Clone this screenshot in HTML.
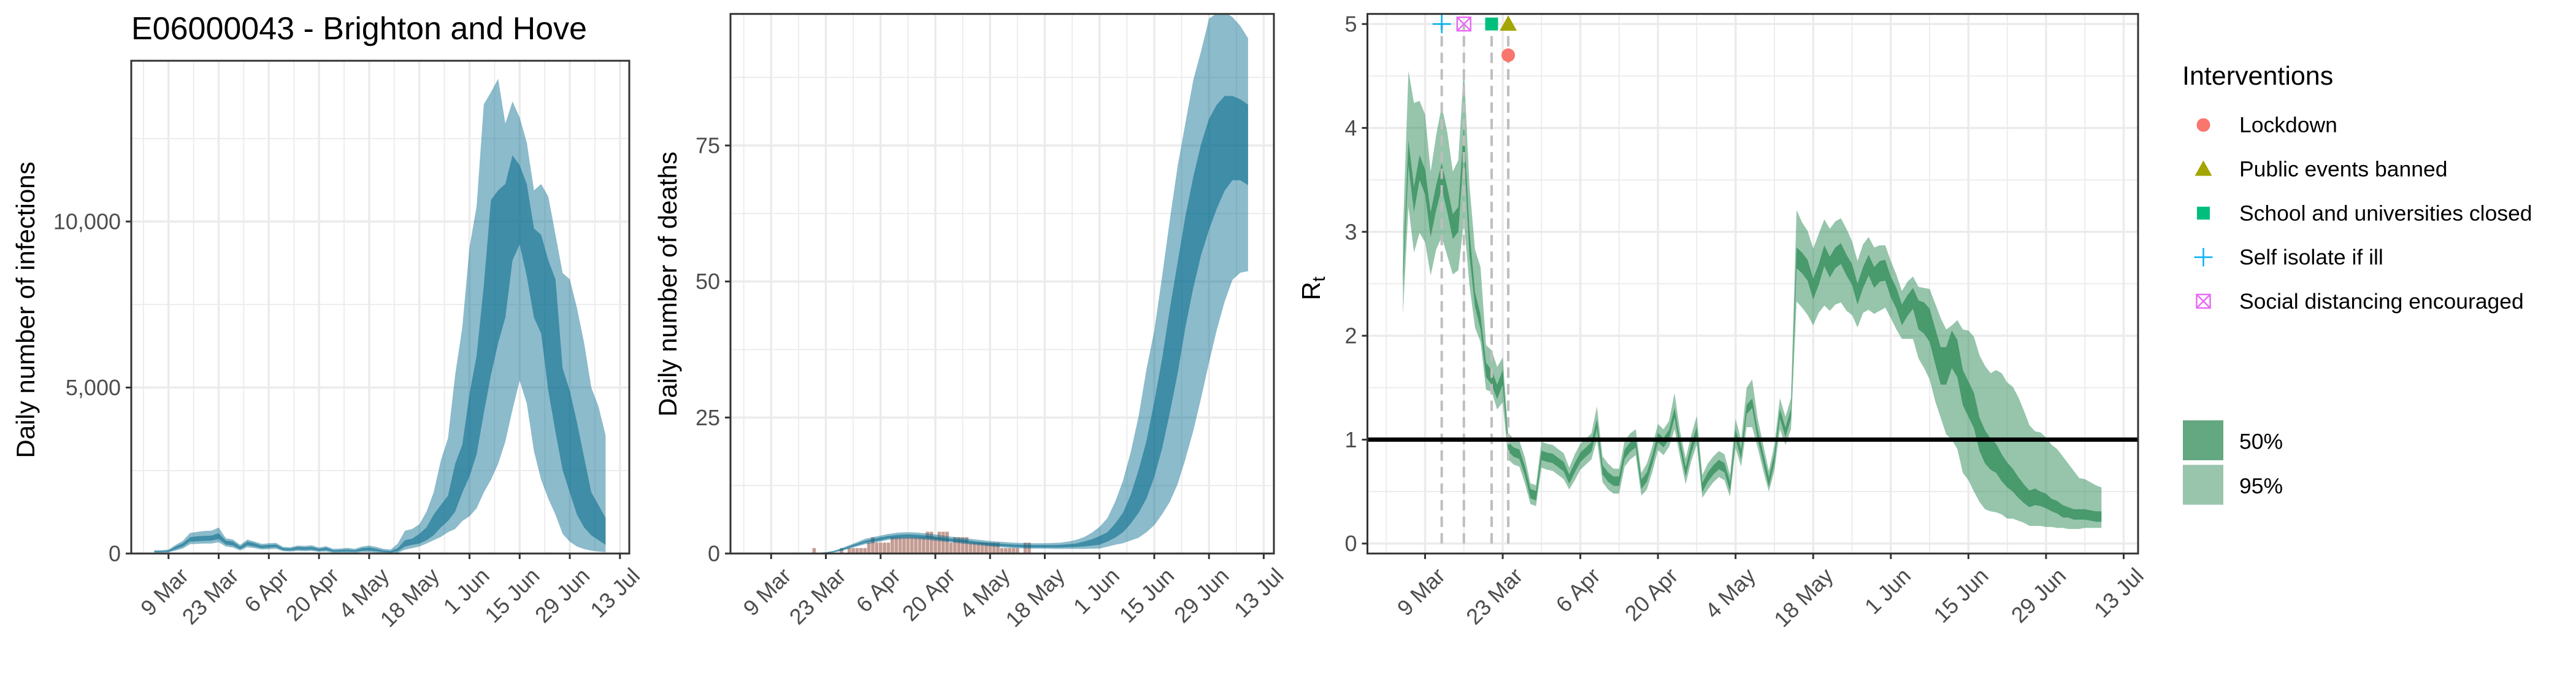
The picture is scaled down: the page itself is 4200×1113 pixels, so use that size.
<!DOCTYPE html>
<html><head><meta charset="utf-8"><title>E06000043 - Brighton and Hove</title>
<style>
html,body{margin:0;padding:0;background:#fff;}
svg{display:block;font-family:"Liberation Sans",Arial,sans-serif;}
</style></head>
<body>
<svg id="chart" width="4200" height="1113" viewBox="0 0 4200 1113" xmlns="http://www.w3.org/2000/svg">
<rect x="0" y="0" width="4200" height="1113" fill="#fff"/>
<g id="p1"></g>
<g id="p2"></g>
<g id="p3"></g>
<text x="214" y="64" font-size="52" fill="#000">E06000043 - Brighton and Hove</text>
<g id="legend"></g>
</svg>
<script>
// ---------- shared x axis (days since 9 Mar) ----------
const xTickDays = [0,14,28,42,56,70,84,98,112,126];
const xTickLabels = ['9 Mar','23 Mar','6 Apr','20 Apr','4 May','18 May','1 Jun','15 Jun','29 Jun','13 Jul'];

// ---------- infections (every 2 days) ----------
const infDays = [-4,-2,0,2,4,6,8,10,12,14,16,18,20,22,24,26,28,30,32,34,36,38,40,42,44,46,48,50,52,54,56,58,60,62,64,66,68,70,72,74,76,78,80,82,84,86,88,90,92,94,96,98,100,102,104,106,108,110,112,114,116,118,120,122];
const infLo50 = [45,45,50,130,210,360,370,380,390,440,270,240,130,250,210,160,180,190,100,90,120,110,120,80,100,50,55,60,50,80,90,70,40,30,70,210,260,300,400,550,785,980,1260,1840,2320,2990,4230,5380,6340,7110,8830,9310,8350,7110,6630,4900,3660,2510,1840,1170,785,546,402,260];
const infHi50 = [75,75,90,210,310,490,520,530,540,610,390,360,210,360,310,240,260,270,160,150,200,190,200,140,180,100,110,120,100,160,180,140,90,75,160,400,450,590,785,1170,1460,1740,2700,3280,4810,5960,8070,10650,10940,11130,11990,11700,11130,9790,9600,8830,8260,5580,4900,3950,2890,1840,1460,1070];
const infLo95 = [30,30,35,90,150,280,290,300,300,340,210,180,90,190,160,120,130,140,70,60,80,70,80,50,60,25,30,30,20,40,40,30,15,10,20,115,160,210,300,400,500,640,740,980,1120,1360,1840,2220,2700,3370,4330,5210,4520,3080,2220,1650,1170,594,354,210,134,86,57,38];
const infHi95 = [100,100,120,260,380,620,650,680,690,780,460,420,260,420,360,290,310,320,200,190,240,230,250,180,220,140,150,170,140,210,240,200,140,120,300,690,740,880,1260,1840,2800,3470,5380,6820,9220,10460,13530,13900,14300,12950,13620,13140,12380,10940,11130,10750,9600,8450,8260,7400,6340,5000,4430,3560];
const infTicks = [0,5000,10000];
const infTickLabels = ['0','5,000','10,000'];
const infMinor = [2500,7500,12500];

// ---------- deaths (every 2 days) ----------
const dthDays = [10,12,14,16,18,20,22,24,26,28,30,32,34,36,38,40,42,44,46,48,50,52,54,56,58,60,62,64,66,68,70,72,74,76,78,80,82,84,86,88,90,92,94,96,98,100,102,104,106,108,110,112,114,116,118,120,122];
const dthLo50 = [0.01,0.03,0.08,0.27,0.6,1.05,1.5,1.95,2.2,2.45,2.75,2.85,2.95,2.95,2.85,2.75,2.6,2.4,2.25,2.1,1.95,1.8,1.65,1.5,1.4,1.3,1.2,1.15,1.1,1.1,1.1,1.1,1.1,1.15,1.2,1.3,1.45,1.6,2.2,2.9,3.9,5.5,7.5,10.1,14.1,19.3,25.9,33.2,41.7,48.9,54.9,59.5,63.4,66.7,68.6,68.6,67.7];
const dthHi50 = [0.03,0.08,0.17,0.43,0.8,1.35,1.85,2.35,2.65,2.95,3.25,3.4,3.5,3.5,3.4,3.3,3.1,2.9,2.75,2.6,2.45,2.25,2.1,1.95,1.85,1.75,1.65,1.6,1.55,1.55,1.55,1.55,1.6,1.7,1.85,2.2,2.6,3.2,3.9,5.5,7.5,10.8,15.4,20.7,27.9,35.8,45,53.6,62.1,69.3,75.3,79.9,82.5,84.1,84.1,83.5,82.5];
const dthLo95 = [0,0.01,0.04,0.2,0.45,0.9,1.3,1.7,1.9,2.2,2.5,2.6,2.7,2.7,2.6,2.5,2.35,2.2,2.05,1.9,1.75,1.6,1.45,1.3,1.2,1.1,1.0,0.95,0.9,0.9,0.9,0.85,0.85,0.85,0.85,0.85,0.9,0.9,1.25,1.6,1.9,2.4,2.9,3.9,5.2,7.2,9.5,12.8,17.4,22.6,28.6,35.1,41.1,46.3,50.3,51.6,51.9];
const dthHi95 = [0.05,0.12,0.25,0.5,1.0,1.55,2.1,2.7,3.0,3.3,3.6,3.8,3.9,3.9,3.8,3.7,3.5,3.3,3.1,2.95,2.8,2.6,2.45,2.3,2.2,2.1,2.0,1.95,1.9,1.9,1.9,1.95,2.0,2.2,2.5,3.0,3.8,4.9,6.5,9.5,13.4,18.7,25.3,33.8,41,50.9,61.4,71.3,79.2,87.1,92.4,98.3,99.3,99.5,98.6,97,94.7];
const obsDays = [11,18,20,21,22,23,24,25,26,27,28,29,30,31,32,33,34,35,36,37,38,39,40,41,42,43,44,45,46,47,48,49,50,51,52,53,54,55,56,57,58,59,60,61,62,63,65,66];
const obsDeaths = [1,1,1,1,1,1,1,2,3,2,2,2,2,3,3,3,3,3,3,3,3,3,4,4,3,4,4,4,2,3,3,3,3,2,2,2,2,2,2,2,2,1,1,1,1,1,2,2];
const dthTicks = [0,25,50,75];
const dthTickLabels = ['0','25','50','75'];
const dthMinor = [12.5,37.5,62.5,87.5];

// ---------- Rt (daily from day -4) ----------
const rtStartDay = -4;
const rtMed = [2.55,3.76,3.31,3.62,3.48,3.07,3.33,3.54,3.31,3.05,3.12,3.89,2.90,2.35,2.13,1.67,1.60,1.46,1.60,
0.93,0.88,0.86,0.70,0.48,0.46,0.85,0.83,0.82,0.78,0.74,0.62,0.73,0.83,0.88,0.93,1.15,0.71,0.64,0.60,0.60,0.86,0.93,0.97,0.57,0.64,0.81,1.02,0.97,1.05,1.26,0.95,0.69,0.91,1.08,0.54,0.64,0.71,0.76,0.73,0.55,1.05,0.86,1.29,1.35,1.05,0.82,0.59,0.82,1.25,1.07,1.25,
2.75,2.70,2.63,2.45,2.59,2.77,2.66,2.75,2.79,2.68,2.59,2.40,2.56,2.68,2.56,2.62,2.63,2.47,2.36,2.20,2.29,2.36,2.20,2.17,2.10,1.90,1.71,1.71,1.87,1.78,1.50,1.39,1.28,1.05,0.93,0.86,0.82,0.73,0.66,0.61,0.54,0.48,0.43,0.45,0.43,0.41,0.37,0.35,0.31,0.30,0.28,0.28,0.28,0.27,0.26,0.26];
const rtHalf50 = [0.08,0.12,0.12,0.12,0.12,0.12,0.12,0.12,0.12,0.12,0.12,0.12,0.12,0.07,0.07,0.07,0.07,0.07,0.07,
0.045,0.045,0.045,0.045,0.045,0.045,0.045,0.045,0.045,0.045,0.045,0.045,0.045,0.045,0.045,0.045,0.045,0.045,0.045,0.045,0.045,0.045,0.045,0.045,0.045,0.045,0.045,0.045,0.045,0.045,0.045,0.045,0.045,0.045,0.045,0.045,0.045,0.045,0.045,0.045,0.045,0.045,0.045,0.045,0.045,0.045,0.045,0.045,0.045,0.045,0.045,0.045,
0.1,0.1,0.1,0.1,0.1,0.1,0.1,0.1,0.1,0.1,0.1,0.1,0.1,0.1,0.1,0.1,0.1,0.1,0.1,0.1,0.1,0.1,
0.14,0.15,0.16,0.17,0.18,0.18,0.18,0.18,0.17,0.17,0.17,0.16,
0.16,0.15,0.14,0.13,0.12,0.11,0.10,0.09,0.08,0.08,
0.07,0.07,0.06,0.06,0.06,0.05,0.05,0.05,0.05,0.05,0.05,0.05];
const rtLo95 = [2.2,3.24,2.80,2.99,2.90,2.58,2.83,2.95,2.77,2.59,2.63,3.10,2.49,2.08,1.94,1.48,1.46,1.29,1.36,
0.81,0.76,0.74,0.58,0.38,0.36,0.73,0.71,0.70,0.66,0.62,0.52,0.61,0.71,0.76,0.81,1.00,0.59,0.52,0.48,0.48,0.74,0.81,0.85,0.46,0.52,0.69,0.90,0.85,0.93,1.10,0.83,0.57,0.79,0.95,0.44,0.52,0.59,0.64,0.61,0.45,0.92,0.74,1.12,1.12,0.92,0.70,0.50,0.70,1.10,0.95,1.10,
2.33,2.27,2.20,2.10,2.22,2.29,2.24,2.30,2.32,2.24,2.20,2.08,2.22,2.25,2.21,2.24,2.27,2.17,2.06,1.97,1.97,1.97,1.78,1.69,1.58,1.37,1.21,1.05,1.00,0.91,0.68,0.61,0.50,0.40,0.33,0.31,0.30,0.28,0.24,0.24,0.22,0.20,0.17,0.17,0.17,0.16,0.16,0.15,0.15,0.14,0.14,0.14,0.15,0.15,0.15,0.15];
const rtHi95 = [3.0,4.55,4.24,4.26,4.13,3.58,3.93,4.21,3.96,3.58,3.69,4.58,3.45,2.83,2.66,1.91,1.86,1.70,1.79,
1.06,1.01,0.99,0.83,0.58,0.56,0.98,0.96,0.95,0.91,0.87,0.73,0.86,0.96,1.01,1.06,1.32,0.84,0.77,0.72,0.72,0.99,1.06,1.10,0.68,0.77,0.94,1.15,1.10,1.18,1.45,1.08,0.82,1.04,1.23,0.66,0.77,0.84,0.89,0.86,0.66,1.20,1.00,1.50,1.58,1.20,0.95,0.70,0.95,1.40,1.22,1.40,
3.21,3.09,3.01,2.84,2.98,3.12,3.03,3.10,3.13,3.03,2.91,2.72,2.88,2.95,2.85,2.87,2.87,2.72,2.59,2.43,2.52,2.57,2.47,2.46,2.45,2.31,2.17,2.06,2.10,2.15,2.06,2.05,1.99,1.81,1.71,1.64,1.67,1.64,1.55,1.51,1.41,1.28,1.14,1.08,1.07,1.02,0.95,0.91,0.84,0.77,0.70,0.63,0.62,0.59,0.56,0.54];
const rtTicks = [0,1,2,3,4,5];
const rtTickLabels = ['0','1','2','3','4','5'];
const rtMinor = [0.5,1.5,2.5,3.5,4.5];

// ---------- interventions ----------
const intNames = ['Lockdown','Public events banned','School and universities closed','Self isolate if ill','Social distancing encouraged'];
const intDays = [15,15,12,3,7];
const intY = [4.7,5,5,5,5];
const intShapes = ['circle','triangle','square','plus','xbox'];
const intColors = ['#F8766D','#A3A500','#00BF7D','#00B0F6','#E76BF3'];

// ---------- helpers ----------
const NS = 'http://www.w3.org/2000/svg';
const X_DOMAIN = [-10.4, 128.6];
function mk(tag, attrs, parent){
  const e = document.createElementNS(NS, tag);
  for (const k in attrs) e.setAttribute(k, attrs[k]);
  parent.appendChild(e);
  return e;
}
function makeScale(d0,d1,r0,r1){ return v => r0 + (v-d0)/(d1-d0)*(r1-r0); }
function bandPath(xs, lo, hi, sx, sy){
  let d = '';
  for (let i=0;i<xs.length;i++) d += (i?'L':'M') + sx(xs[i]).toFixed(1) + ',' + sy(hi[i]).toFixed(1);
  for (let i=xs.length-1;i>=0;i--) d += 'L' + sx(xs[i]).toFixed(1) + ',' + sy(lo[i]).toFixed(1);
  return d + 'Z';
}
function setupPanel(g, box, yDom, yTicks, yLabels, yMinor, clipId){
  const sx = makeScale(X_DOMAIN[0], X_DOMAIN[1], box.l, box.r);
  const sy = makeScale(yDom[0], yDom[1], box.b, box.t);
  const grid = mk('g', {}, g);
  
  
  yMinor.forEach(v => { const y = sy(v); if (y>box.t && y<box.b) mk('line',{x1:box.l,x2:box.r,y1:y,y2:y,stroke:'#EBEBEB','stroke-width':1.8},grid); });
  for (let d=-7; d<=133; d+=14){ const x = sx(d); if (x>box.l && x<box.r) mk('line',{x1:x,x2:x,y1:box.t,y2:box.b,stroke:'#EBEBEB','stroke-width':1.8},grid); }
  yTicks.forEach(v => { const y = sy(v); mk('line',{x1:box.l,x2:box.r,y1:y,y2:y,stroke:'#EBEBEB','stroke-width':3.5},grid); });
  xTickDays.forEach(d => { const x = sx(d); if (x>box.l && x<box.r) mk('line',{x1:x,x2:x,y1:box.t,y2:box.b,stroke:'#EBEBEB','stroke-width':3.5},grid); });
  const defs = mk('defs', {}, g);
  const cp = mk('clipPath', {id:clipId}, defs);
  mk('rect', {x:box.l, y:box.t, width:box.r-box.l, height:box.b-box.t}, cp);
  const data = mk('g', {'clip-path':'url(#'+clipId+')'}, g);
  
  
  return {sx, sy, data};
}
function finishPanel(g, box, sx, sy, yTicks, yLabels, prefix){
  const border = mk('rect', {x:box.l, y:box.t, width:box.r-box.l, height:box.b-box.t, fill:'none', stroke:'#333333', 'stroke-width':3}, g);
  
  
  const yax = mk('g', {}, g);
  
  
  yTicks.forEach((v,i) => {
    const y = sy(v);
    mk('line', {x1:box.l-9, x2:box.l, y1:y, y2:y, stroke:'#333333', 'stroke-width':3}, yax);
    const t = mk('text', {x:box.l-17, y:y+12.5, 'text-anchor':'end', 'font-size':36, fill:'#4D4D4D'}, yax);
    t.textContent = yLabels[i];
    
    
  });
  const xax = mk('g', {}, g);
  
  
  xTickDays.forEach((d,i) => {
    const x = sx(d);
    mk('line', {x1:x, x2:x, y1:box.b, y2:box.b+9, stroke:'#333333', 'stroke-width':3}, xax);
    const ax = x + 16, ay = box.b + 20;
    const t = mk('text', {x:ax, y:ay, 'text-anchor':'end', 'dominant-baseline':'hanging', 'font-size':36, fill:'#4D4D4D', transform:'rotate(-45 '+ax+' '+ay+')'}, xax);
    t.textContent = xTickLabels[i];
    
    
  });
}
function yTitle(g, x, y, txt, name){
  const t = mk('text', {x:x, y:y, 'text-anchor':'middle', 'font-size':42, fill:'#000', transform:'rotate(-90 '+x+' '+y+')'}, g);
  t.textContent = txt;
  
  
  return t;
}

// ---------- Panel 1: infections ----------
(function(){
  const g = document.getElementById('p1');
  const box = {l:214, r:1026, t:99, b:902};
  const yDom = [0, 14843];
  const {sx, sy, data} = setupPanel(g, box, yDom, infTicks, infTickLabels, infMinor, 'clip1');
  const b95 = mk('path', {d:bandPath(infDays, infLo95, infHi95, sx, sy), fill:'rgba(0,104,139,0.45)'}, data);
  
  
  const b50 = mk('path', {d:bandPath(infDays, infLo50, infHi50, sx, sy), fill:'rgba(0,104,139,0.55)'}, data);
  
  
  finishPanel(g, box, sx, sy, infTicks, infTickLabels, 'infections');
  yTitle(g, 56, 505, 'Daily number of infections', 'infections-y-axis-title');
})();

// ---------- Panel 2: deaths ----------
(function(){
  const g = document.getElementById('p2');
  const box = {l:1191, r:2077, t:22.7, b:902};
  const yDom = [0, 99.18];
  const {sx, sy, data} = setupPanel(g, box, yDom, dthTicks, dthTickLabels, dthMinor, 'clip2');
  const bars = mk('g', {}, data);
  
  
  const w = (sx(1)-sx(0))*0.88;
  obsDays.forEach((d,i) => {
    const x = sx(d) - w/2, y = sy(obsDeaths[i]);
    const r = mk('rect', {x:x, y:y, width:w, height:sy(0)-y, fill:'#C49C94'}, bars);
    
    
  });
  const b95 = mk('path', {d:bandPath(dthDays, dthLo95, dthHi95, sx, sy), fill:'rgba(0,104,139,0.45)'}, data);
  
  
  const b50 = mk('path', {d:bandPath(dthDays, dthLo50, dthHi50, sx, sy), fill:'rgba(0,104,139,0.55)'}, data);
  
  
  finishPanel(g, box, sx, sy, dthTicks, dthTickLabels, 'deaths');
  yTitle(g, 1103, 463, 'Daily number of deaths', 'deaths-y-axis-title');
})();

// ---------- Panel 3: Rt ----------
function drawShape(parent, shape, cx, cy, color){
  let e;
  if (shape==='circle') e = mk('circle', {cx:cx, cy:cy, r:11, fill:color}, parent);
  else if (shape==='triangle') e = mk('polygon', {points:(cx-14)+','+(cy+11)+' '+(cx+14)+','+(cy+11)+' '+cx+','+(cy-14), fill:color}, parent);
  else if (shape==='square') e = mk('rect', {x:cx-10.5, y:cy-10.5, width:21, height:21, fill:color}, parent);
  else if (shape==='plus') e = mk('path', {d:'M'+(cx-15)+','+cy+'H'+(cx+15)+'M'+cx+','+(cy-15)+'V'+(cy+15), stroke:color, 'stroke-width':2.5, fill:'none'}, parent);
  else e = mk('path', {d:'M'+(cx-11)+','+(cy-11)+'h22v22h-22zM'+(cx-11)+','+(cy-11)+'L'+(cx+11)+','+(cy+11)+'M'+(cx+11)+','+(cy-11)+'L'+(cx-11)+','+(cy+11), stroke:color, 'stroke-width':2.5, fill:'none'}, parent);
  return e;
}
(function(){
  const g = document.getElementById('p3');
  const box = {l:2229.5, r:3486, t:22.7, b:902};
  const yDom = [-0.096, 5.097];
  const {sx, sy, data} = setupPanel(g, box, yDom, rtTicks, rtTickLabels, rtMinor, 'clip3');
  const rtDays = rtMed.map((v,i) => rtStartDay + i);
  const lo50 = rtMed.map((v,i) => v - rtHalf50[i]);
  const hi50 = rtMed.map((v,i) => v + rtHalf50[i]);
  const b95 = mk('path', {d:bandPath(rtDays, rtLo95, rtHi95, sx, sy), fill:'rgba(46,139,87,0.5)'}, data);
  
  
  const b50 = mk('path', {d:bandPath(rtDays, lo50, hi50, sx, sy), fill:'rgba(46,139,87,0.74)'}, data);
  
  
  const vl = mk('g', {}, data);
  
  
  intDays.forEach((d,i) => {
    const l = mk('line', {x1:sx(d), x2:sx(d), y1:sy(0), y2:sy(intY[i]), stroke:'#BEBEBE', 'stroke-width':4, 'stroke-dasharray':'17 10'}, vl);
    
    
  });
  const h1 = mk('line', {x1:box.l, x2:box.r, y1:sy(1), y2:sy(1), stroke:'#000', 'stroke-width':7}, data);
  
  
  const mg = mk('g', {}, g);
  
  
  intDays.forEach((d,i) => {
    const e = drawShape(mg, intShapes[i], sx(d), sy(intY[i]), intColors[i]);
    
    
  });
  finishPanel(g, box, sx, sy, rtTicks, rtTickLabels, 'rt');
  const t = mk('text', {x:2152, y:470, 'text-anchor':'middle', 'font-size':42, fill:'#000', transform:'rotate(-90 2152 470)'}, g);
  
  
  const r = mk('tspan', {}, t); r.textContent = 'R';
  const s = mk('tspan', {'font-size':30, dy:8}, t); s.textContent = 't';
})();

// ---------- Legend ----------
(function(){
  const lg = document.getElementById('legend');
  const title = mk('text', {x:3558, y:138, 'font-size':43, fill:'#000'}, lg);
  title.textContent = 'Interventions';
  
  
  const order = [0,1,2,3,4];
  order.forEach((k,j) => {
    const by = 215.7 + j*71.8;
    const item = mk('g', {}, lg);
    
    
    drawShape(item, intShapes[k], 3592.5, by-12, intColors[k]);
    const t = mk('text', {x:3651, y:by, 'font-size':35.5, fill:'#000'}, item);
    t.textContent = intNames[k];
  });
  const bandLab = ['50%','95%'];
  const bandFill = ['#64A881','#99C5AD'];
  const bandY = [685, 757.5];
  bandLab.forEach((lab,i) => {
    const item = mk('g', {}, lg);
    
    
    mk('rect', {x:3559, y:bandY[i], width:66, height:65, fill:bandFill[i]}, item);
    const t = mk('text', {x:3651, y:bandY[i]+46.5, 'font-size':35.5, fill:'#000'}, item);
    t.textContent = lab;
  });
})();
</script>
</body></html>
